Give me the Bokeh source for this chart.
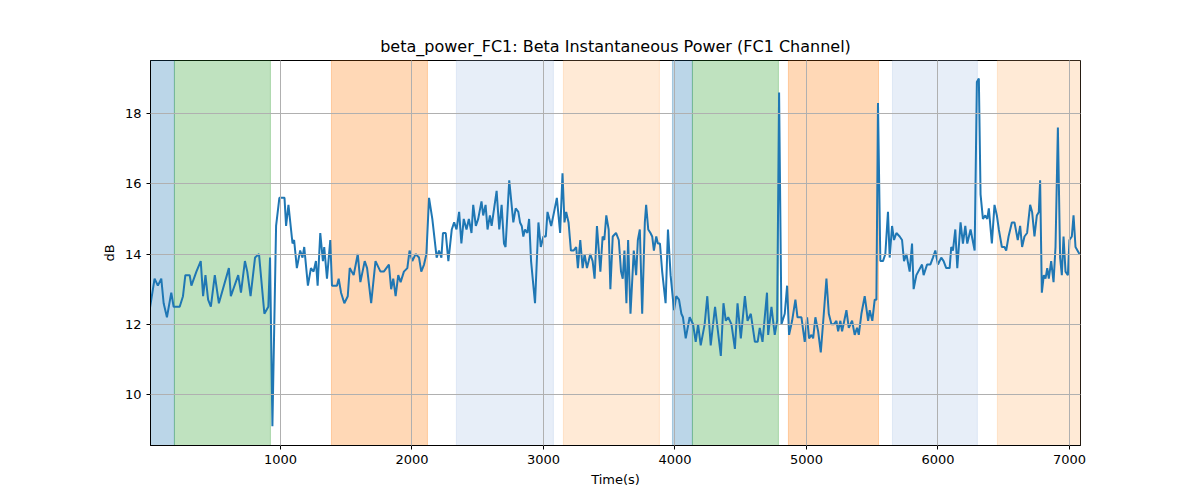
from bokeh.plotting import figure
from bokeh.models import BoxAnnotation, FixedTicker, Range1d
from bokeh.embed import file_html
from bokeh.resources import INLINE

time_s = [5, 43, 68, 94, 112, 137, 170, 188, 234, 259, 277, 310, 323, 361, 394, 412, 430, 450, 471, 501, 532, 608, 623, 679, 700, 730, 748, 773, 807, 837, 878, 908, 921, 939, 967, 992, 1031, 1043, 1061, 1092, 1104, 1125, 1150, 1168, 1181, 1209, 1232, 1252, 1270, 1283, 1303, 1323, 1333, 1354, 1379, 1392, 1430, 1443, 1461, 1486, 1512, 1527, 1557, 1588, 1608, 1641, 1659, 1690, 1723, 1761, 1786, 1825, 1842, 1858, 1876, 1896, 1914, 1939, 1965, 1982, 2003, 2028, 2054, 2071, 2092, 2110, 2130, 2155, 2188, 2206, 2224, 2236, 2257, 2277, 2303, 2321, 2339, 2359, 2376, 2394, 2415, 2433, 2453, 2466, 2486, 2504, 2529, 2542, 2560, 2575, 2593, 2606, 2644, 2664, 2682, 2700, 2712, 2740, 2771, 2789, 2809, 2822, 2835, 2847, 2860, 2878, 2891, 2906, 2936, 2962, 2980, 3000, 3018, 3031, 3059, 3081, 3102, 3127, 3145, 3160, 3173, 3191, 3209, 3229, 3249, 3262, 3280, 3298, 3313, 3331, 3344, 3356, 3374, 3389, 3407, 3433, 3450, 3463, 3478, 3496, 3509, 3527, 3552, 3573, 3590, 3603, 3616, 3631, 3644, 3662, 3687, 3705, 3718, 3733, 3751, 3771, 3781, 3797, 3814, 3827, 3840, 3858, 3870, 3886, 3903, 3929, 3947, 3967, 3993, 4010, 4031, 4049, 4061, 4082, 4112, 4138, 4158, 4176, 4196, 4226, 4246, 4272, 4305, 4349, 4369, 4387, 4405, 4430, 4456, 4476, 4501, 4532, 4552, 4577, 4608, 4629, 4645, 4666, 4700, 4709, 4734, 4759, 4777, 4792, 4810, 4835, 4853, 4868, 4891, 4916, 4932, 4962, 4987, 5005, 5020, 5038, 5051, 5068, 5089, 5109, 5132, 5152, 5170, 5190, 5208, 5228, 5241, 5258, 5271, 5304, 5322, 5347, 5367, 5385, 5398, 5418, 5443, 5469, 5481, 5501, 5519, 5532, 5544, 5562, 5582, 5600, 5620, 5633, 5651, 5666, 5684, 5709, 5727, 5742, 5760, 5785, 5803, 5815, 5836, 5879, 5891, 5917, 5942, 5962, 5980, 6000, 6025, 6043, 6063, 6089, 6101, 6114, 6132, 6147, 6172, 6190, 6208, 6223, 6248, 6279, 6296, 6311, 6324, 6342, 6360, 6375, 6387, 6410, 6430, 6448, 6463, 6486, 6506, 6519, 6537, 6562, 6582, 6607, 6625, 6640, 6658, 6678, 6701, 6716, 6734, 6752, 6767, 6777, 6790, 6805, 6818, 6831, 6843, 6861, 6879, 6894, 6912, 6929, 6942, 6955, 6970, 6988, 7000, 7018, 7031, 7046, 7076]
power_db = [12.4, 13.3, 13.1, 13.3, 12.6, 12.2, 12.9, 12.5, 12.5, 12.8, 13.4, 13.4, 13.1, 13.5, 13.8, 12.8, 13.4, 12.7, 12.5, 13.4, 12.6, 13.6, 12.8, 13.4, 12.9, 13.8, 13.5, 12.8, 13.9, 14.0, 12.3, 12.5, 13.9, 9.1, 14.8, 15.6, 15.6, 14.8, 15.4, 14.3, 14.4, 13.6, 14.1, 13.9, 14.2, 13.1, 13.6, 13.5, 13.8, 13.1, 14.6, 13.8, 14.2, 13.3, 14.4, 13.1, 13.1, 13.3, 12.9, 12.6, 12.8, 13.6, 13.4, 14.0, 13.2, 13.8, 13.6, 12.6, 13.8, 13.5, 13.5, 13.7, 13.0, 13.3, 12.8, 13.4, 13.2, 13.5, 13.6, 14.1, 13.8, 14.0, 13.9, 13.5, 13.7, 14.0, 15.6, 15.0, 13.9, 14.1, 13.9, 14.6, 14.6, 13.8, 14.7, 14.9, 14.7, 15.2, 14.3, 15.0, 14.7, 15.0, 14.6, 15.4, 14.8, 15.0, 15.5, 15.1, 15.4, 14.7, 15.1, 14.8, 15.8, 14.7, 15.4, 14.3, 14.2, 16.1, 14.9, 15.3, 15.2, 14.9, 14.8, 14.5, 14.7, 14.6, 15.0, 13.8, 12.6, 14.9, 14.2, 14.5, 14.5, 15.2, 14.8, 15.2, 15.6, 14.6, 16.3, 14.9, 15.2, 14.9, 14.1, 14.1, 14.2, 13.6, 14.4, 13.6, 14.0, 13.6, 13.8, 14.0, 13.8, 13.3, 14.8, 13.5, 14.5, 14.4, 15.1, 14.7, 13.0, 14.5, 14.6, 14.4, 13.5, 13.3, 14.1, 12.6, 14.4, 12.3, 14.1, 13.4, 14.4, 14.7, 12.3, 14.9, 15.4, 14.7, 14.6, 14.5, 14.1, 14.5, 14.3, 14.3, 13.5, 12.6, 14.7, 13.4, 12.4, 12.8, 12.7, 12.3, 12.2, 11.6, 12.2, 12.0, 11.5, 12.0, 11.4, 12.0, 12.8, 11.4, 12.5, 11.1, 12.6, 12.1, 12.2, 12.0, 11.3, 12.6, 11.6, 12.8, 12.1, 12.3, 11.5, 11.5, 11.9, 11.5, 12.9, 11.7, 12.5, 11.7, 12.1, 18.6, 12.0, 12.3, 13.1, 11.7, 12.1, 12.7, 12.2, 12.2, 11.5, 12.2, 11.6, 11.7, 11.6, 12.2, 11.8, 11.2, 12.3, 13.3, 12.3, 12.0, 12.0, 12.1, 11.8, 12.1, 11.8, 12.4, 11.9, 12.1, 11.7, 11.9, 11.7, 12.3, 12.8, 12.1, 12.4, 12.1, 12.7, 12.7, 18.3, 13.8, 13.8, 14.0, 15.2, 13.9, 14.8, 14.4, 14.6, 14.5, 14.4, 13.8, 14.0, 13.5, 14.3, 13.0, 13.4, 13.7, 13.4, 13.7, 13.7, 13.9, 14.1, 13.7, 13.9, 13.8, 13.6, 13.6, 14.2, 14.1, 14.7, 13.6, 14.9, 14.3, 14.8, 14.3, 14.7, 14.1, 18.9, 19.0, 15.7, 15.0, 15.1, 15.0, 15.3, 14.3, 15.4, 15.1, 14.7, 14.2, 14.2, 14.1, 14.5, 14.9, 14.9, 14.4, 14.8, 14.2, 14.5, 14.6, 15.4, 15.2, 14.5, 15.1, 15.2, 16.1, 12.9, 13.4, 13.3, 13.6, 13.3, 13.8, 13.2, 14.2, 17.6, 13.9, 13.4, 14.5, 13.5, 13.4, 14.4, 14.5, 15.1, 14.2, 14.0]

span_start = [12, 194, 1388, 2338, 3152, 3981, 4133, 4863, 5654, 6452]
span_end = [194, 924, 2118, 3076, 3882, 4133, 4787, 5548, 6300, 7100]
span_color = ["#1f77b4", "#2ca02c", "#ff7f0e", "#aec7e8", "#ffbb78",
              "#1f77b4", "#2ca02c", "#ff7f0e", "#aec7e8", "#ffbb78"]

x_ticks = [1000, 2000, 3000, 4000, 5000, 6000, 7000]
y_ticks = [10, 12, 14, 16, 18]

p = figure(width=1184, height=492, output_backend="svg", toolbar_location=None,
           title="beta_power_FC1: Beta Instantaneous Power (FC1 Channel)",
           x_range=Range1d(12, 7084), y_range=Range1d(8.55, 19.51),
           x_axis_label="Time(s)", y_axis_label="dB",
           min_border_left=150, min_border_right=104, min_border_top=60, min_border_bottom=47)

for s, e, c in zip(span_start, span_end, span_color):
    p.add_layout(BoxAnnotation(left=s, right=e, fill_color=c, fill_alpha=0.3,
                               line_color=c, line_alpha=0.3, level="underlay"))

p.line(time_s, power_db, line_color="#1f77b4", line_width=2)

p.title.align = "center"
p.title.text_font = "DejaVu Sans"
p.title.text_font_size = "16px"
p.title.text_font_style = "normal"
p.title.text_color = "black"

for ax in (p.xaxis, p.yaxis):
    ax.axis_label_text_font = "DejaVu Sans"
    ax.axis_label_text_font_size = "13px"
    ax.axis_label_text_font_style = "normal"
    ax.axis_label_text_color = "black"
    ax.major_label_text_font = "DejaVu Sans"
    ax.major_label_text_font_size = "13px"
    ax.major_label_text_color = "black"
    ax.minor_tick_line_color = None
    ax.major_tick_in = 0
    ax.major_tick_out = 4
    ax.axis_line_color = "black"
p.xaxis.ticker = FixedTicker(ticks=x_ticks)
p.yaxis.ticker = FixedTicker(ticks=y_ticks)

p.grid.grid_line_color = "#b0b0b0"
p.grid.grid_line_width = 1
p.grid.level = "overlay"
p.outline_line_color = "black"

open("out.html", "w").write(file_html(p, INLINE))
